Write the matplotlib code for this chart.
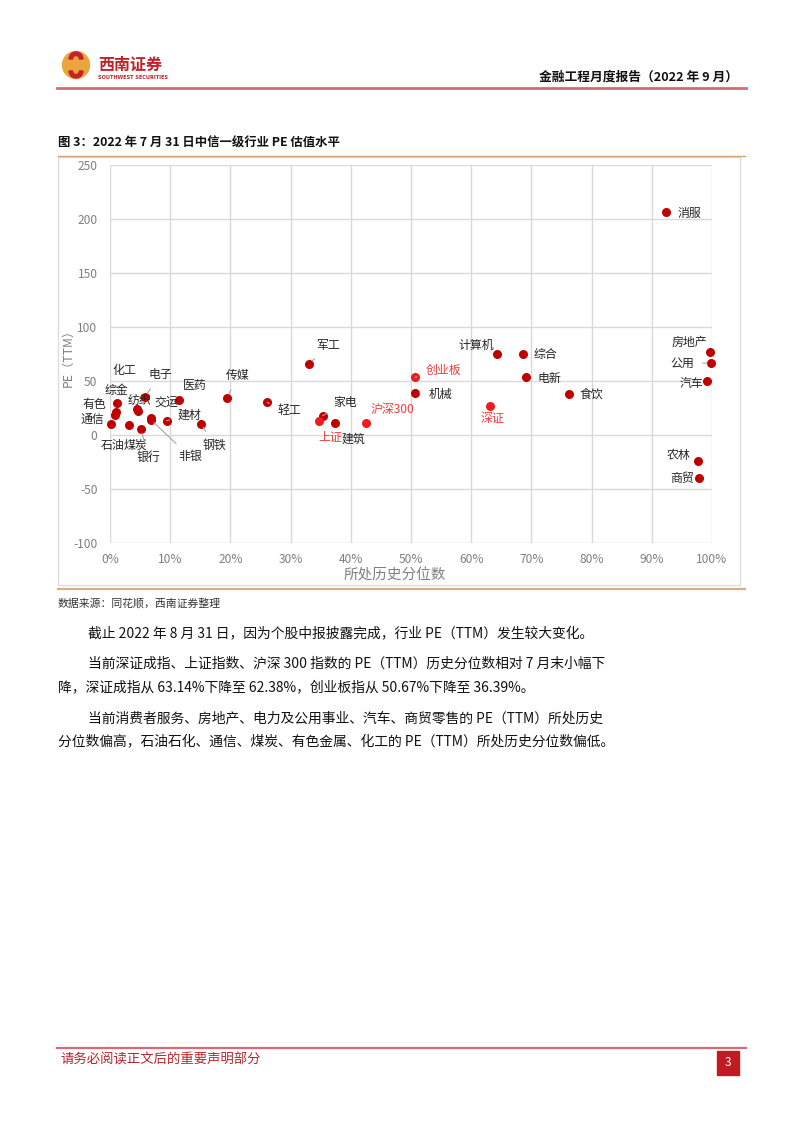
import matplotlib.pyplot as plt
from matplotlib.patches import Rectangle, Circle, Wedge
from matplotlib.ticker import PercentFormatter

plt.rcParams['font.family'] = ['Noto Sans CJK SC', 'DejaVu Sans']
plt.rcParams['axes.unicode_minus'] = False

# industry points: historical percentile (x) and PE TTM (y)
industries = ['石油', '有色', '通信', '综金', '煤炭', '化工', '纺织', '银行', '电子',
              '交运', '非银', '建材', '医药', '钢铁', '传媒', '轻工', '军工', '家电',
              '建筑', '机械', '计算机', '综合', '电新', '食饮', '消服', '农林', '商贸',
              '汽车', '房地产', '公用']
ind_pct = [0.002, 0.010, 0.009, 0.012, 0.032, 0.045, 0.046, 0.051, 0.058,
           0.068, 0.068, 0.094, 0.114, 0.151, 0.195, 0.261, 0.331, 0.353,
           0.374, 0.507, 0.643, 0.686, 0.691, 0.762, 0.924, 0.976, 0.979,
           0.992, 0.996, 0.999]
ind_pe = [10.1, 20.9, 18.4, 29.2, 8.9, 23.9, 22.1, 5.5, 35.3,
          15.9, 14.1, 13.2, 32.5, 10.1, 34.7, 30.1, 66.0, 17.8,
          10.8, 39.3, 74.9, 74.9, 53.7, 38.4, 206.9, -24.2, -39.9,
          50.0, 77.0, 66.6]

# broad market indices
indices = ['上证', '沪深300', '创业板', '深证']
idx_pct = [0.348, 0.426, 0.5067, 0.6314]
idx_pe = [12.6, 11.3, 53.4, 27.0]

x_ticks = [0.0, 0.1, 0.2, 0.3, 0.4, 0.5, 0.6, 0.7, 0.8, 0.9, 1.0]
y_ticks = [-100, -50, 0, 50, 100, 150, 200, 250]

# label placement (offset in pixels from the dot, leader line yes/no)
label_pos = {
    '石油': (1, -21, False), '有色': (-22, 8, False), '通信': (-23, -4, False),
    '综金': (-1, 13, False), '煤炭': (6, -20, False), '化工': (-13, 39, False),
    '纺织': (2, 11, False), '银行': (8, -28, True), '电子': (15, 22, True),
    '交运': (15, 16, False), '非银': (39, -37, True), '建材': (23, 6, True),
    '医药': (16, 14, False), '钢铁': (14, -21, True), '传媒': (10, 22, True),
    '轻工': (22, -8, True), '军工': (19, 18, True), '家电': (23, 13, True),
    '建筑': (18, -16, False), '机械': (25, -2, True), '计算机': (-21, 9, False),
    '综合': (22, 0, False), '电新': (23, -1, False), '食饮': (23, -1, False),
    '消服': (23, -2, False), '农林': (-19, 6, False), '商贸': (-17, 0, False),
    '汽车': (-16, -2, False), '房地产': (-20, 9, False), '公用': (-29, 0, True),
    '上证': (11, -15, False), '沪深300': (26, 13, False), '创业板': (28, 7, True),
    '深证': (2, -13, False),
}

W, H = 802, 1133
fig = plt.figure(figsize=(W / 100, H / 100), dpi=100)
fig.patch.set_facecolor('white')

# page overlay in pixel coordinates
pg = fig.add_axes([0, 0, 1, 1])
pg.set_xlim(0, W)
pg.set_ylim(H, 0)
pg.axis('off')

# header logo
pg.add_patch(Circle((76, 65), 13.5, color='#eaa63c', zorder=2))
pg.add_patch(Wedge((76, 59), 7, 180, 360, width=3.5, color='#c8202a', zorder=3))
pg.add_patch(Wedge((76, 71), 7, 0, 180, width=3.5, color='#c8202a', zorder=3))
pg.text(98, 65, '西南证券', fontsize=11.5, fontweight='bold', color='#c0202a',
        va='center', ha='left')
pg.text(98, 77.5, 'SOUTHWEST SECURITIES', fontsize=3.6, fontweight='bold',
        color='#c0202a', va='center', ha='left', family='DejaVu Sans')
pg.text(738, 77, '金融工程月度报告（2022 年 9 月）', fontsize=9.2, fontweight='bold',
        color='#111111', va='center', ha='right')
pg.plot([57, 746], [88, 88], color='#d66a79', lw=2)

# caption and frame
pg.text(58, 143, '图 3：2022 年 7 月 31 日中信一级行业 PE 估值水平', fontsize=8.9,
        fontweight='bold', color='#111111', va='center', ha='left')
pg.plot([58, 745], [155.5, 155.5], color='#cfa577', lw=1)
pg.add_patch(Rectangle((58, 157), 682, 428, fill=False, edgecolor='#dcdcdc', lw=1))
pg.plot([58, 745], [589, 589], color='#d9ae7e', lw=1.6)
pg.text(58, 603, '数据来源：同花顺，西南证券整理', fontsize=7.8, color='#333333',
        va='center', ha='left')

# axis titles
pg.text(395, 575, '所处历史分位数', fontsize=10.5, color='#808080', va='center', ha='center')
pg.text(68, 355, 'PE（TTM）', fontsize=8.8, color='#808080', va='center', ha='center',
        rotation=90)

# body text
body = [
    (88, 633, '截止 2022 年 8 月 31 日，因为个股中报披露完成，行业 PE（TTM）发生较大变化。'),
    (88, 664, '当前深证成指、上证指数、沪深 300 指数的 PE（TTM）历史分位数相对 7 月末小幅下'),
    (58, 687, '降，深证成指从 63.14%下降至 62.38%，创业板指从 50.67%下降至 36.39%。'),
    (88, 718, '当前消费者服务、房地产、电力及公用事业、汽车、商贸零售的 PE（TTM）所处历史'),
    (58, 741, '分位数偏高，石油石化、通信、煤炭、有色金属、化工的 PE（TTM）所处历史分位数偏低。'),
]
for x, y, s in body:
    pg.text(x, y, s, fontsize=9.95, color='#111111', va='center', ha='left')

# footer
pg.plot([57, 746], [1048, 1048], color='#d66a79', lw=1.6)
pg.text(60, 1060, '请务必阅读正文后的重要声明部分', fontsize=9.6, color='#b8242c',
        va='center', ha='left')
pg.add_patch(Rectangle((717, 1051), 22, 24, color='#c01a22'))
pg.text(728, 1063, '3', fontsize=8.5, color='white', va='center', ha='center')

# scatter chart
ax = fig.add_axes([110 / W, 1 - 543 / H, 602 / W, 378 / H])
ax.set_facecolor('none')
ax.set_xlim(0, 1)
ax.set_ylim(-100, 250)
ax.set_xticks(x_ticks)
ax.set_yticks(y_ticks)
ax.xaxis.set_major_formatter(PercentFormatter(1.0, decimals=0))
ax.grid(True, color='#d9d9d9', lw=1)
ax.set_axisbelow(True)
for sp in ax.spines.values():
    sp.set_visible(False)
ax.tick_params(length=0, colors='#7f7f7f', labelsize=8.6)
ax.tick_params(axis='x', pad=7)
ax.tick_params(axis='y', pad=9)

ax.scatter(ind_pct, ind_pe, s=30, color='#c00000', zorder=3, clip_on=False)
ax.scatter(idx_pct, idx_pe, s=30, color='#ee1c1c', zorder=3, clip_on=False)


def put_label(name, x, y, color):
    dx, dy, leader = label_pos[name]
    props = dict(arrowstyle='-', color='#a6a6a6', lw=0.8, shrinkA=4, shrinkB=3) if leader else None
    ax.annotate(name, (x, y), xytext=(dx, dy), textcoords='offset pixels',
                fontsize=8.6, color=color, ha='center', va='center',
                arrowprops=props, zorder=4, annotation_clip=False)


for n, x, y in zip(industries, ind_pct, ind_pe):
    put_label(n, x, y, '#262626')
for n, x, y in zip(indices, idx_pct, idx_pe):
    put_label(n, x, y, '#f03c3c')

fig.savefig('out.png', dpi=100)
plt.close(fig)
